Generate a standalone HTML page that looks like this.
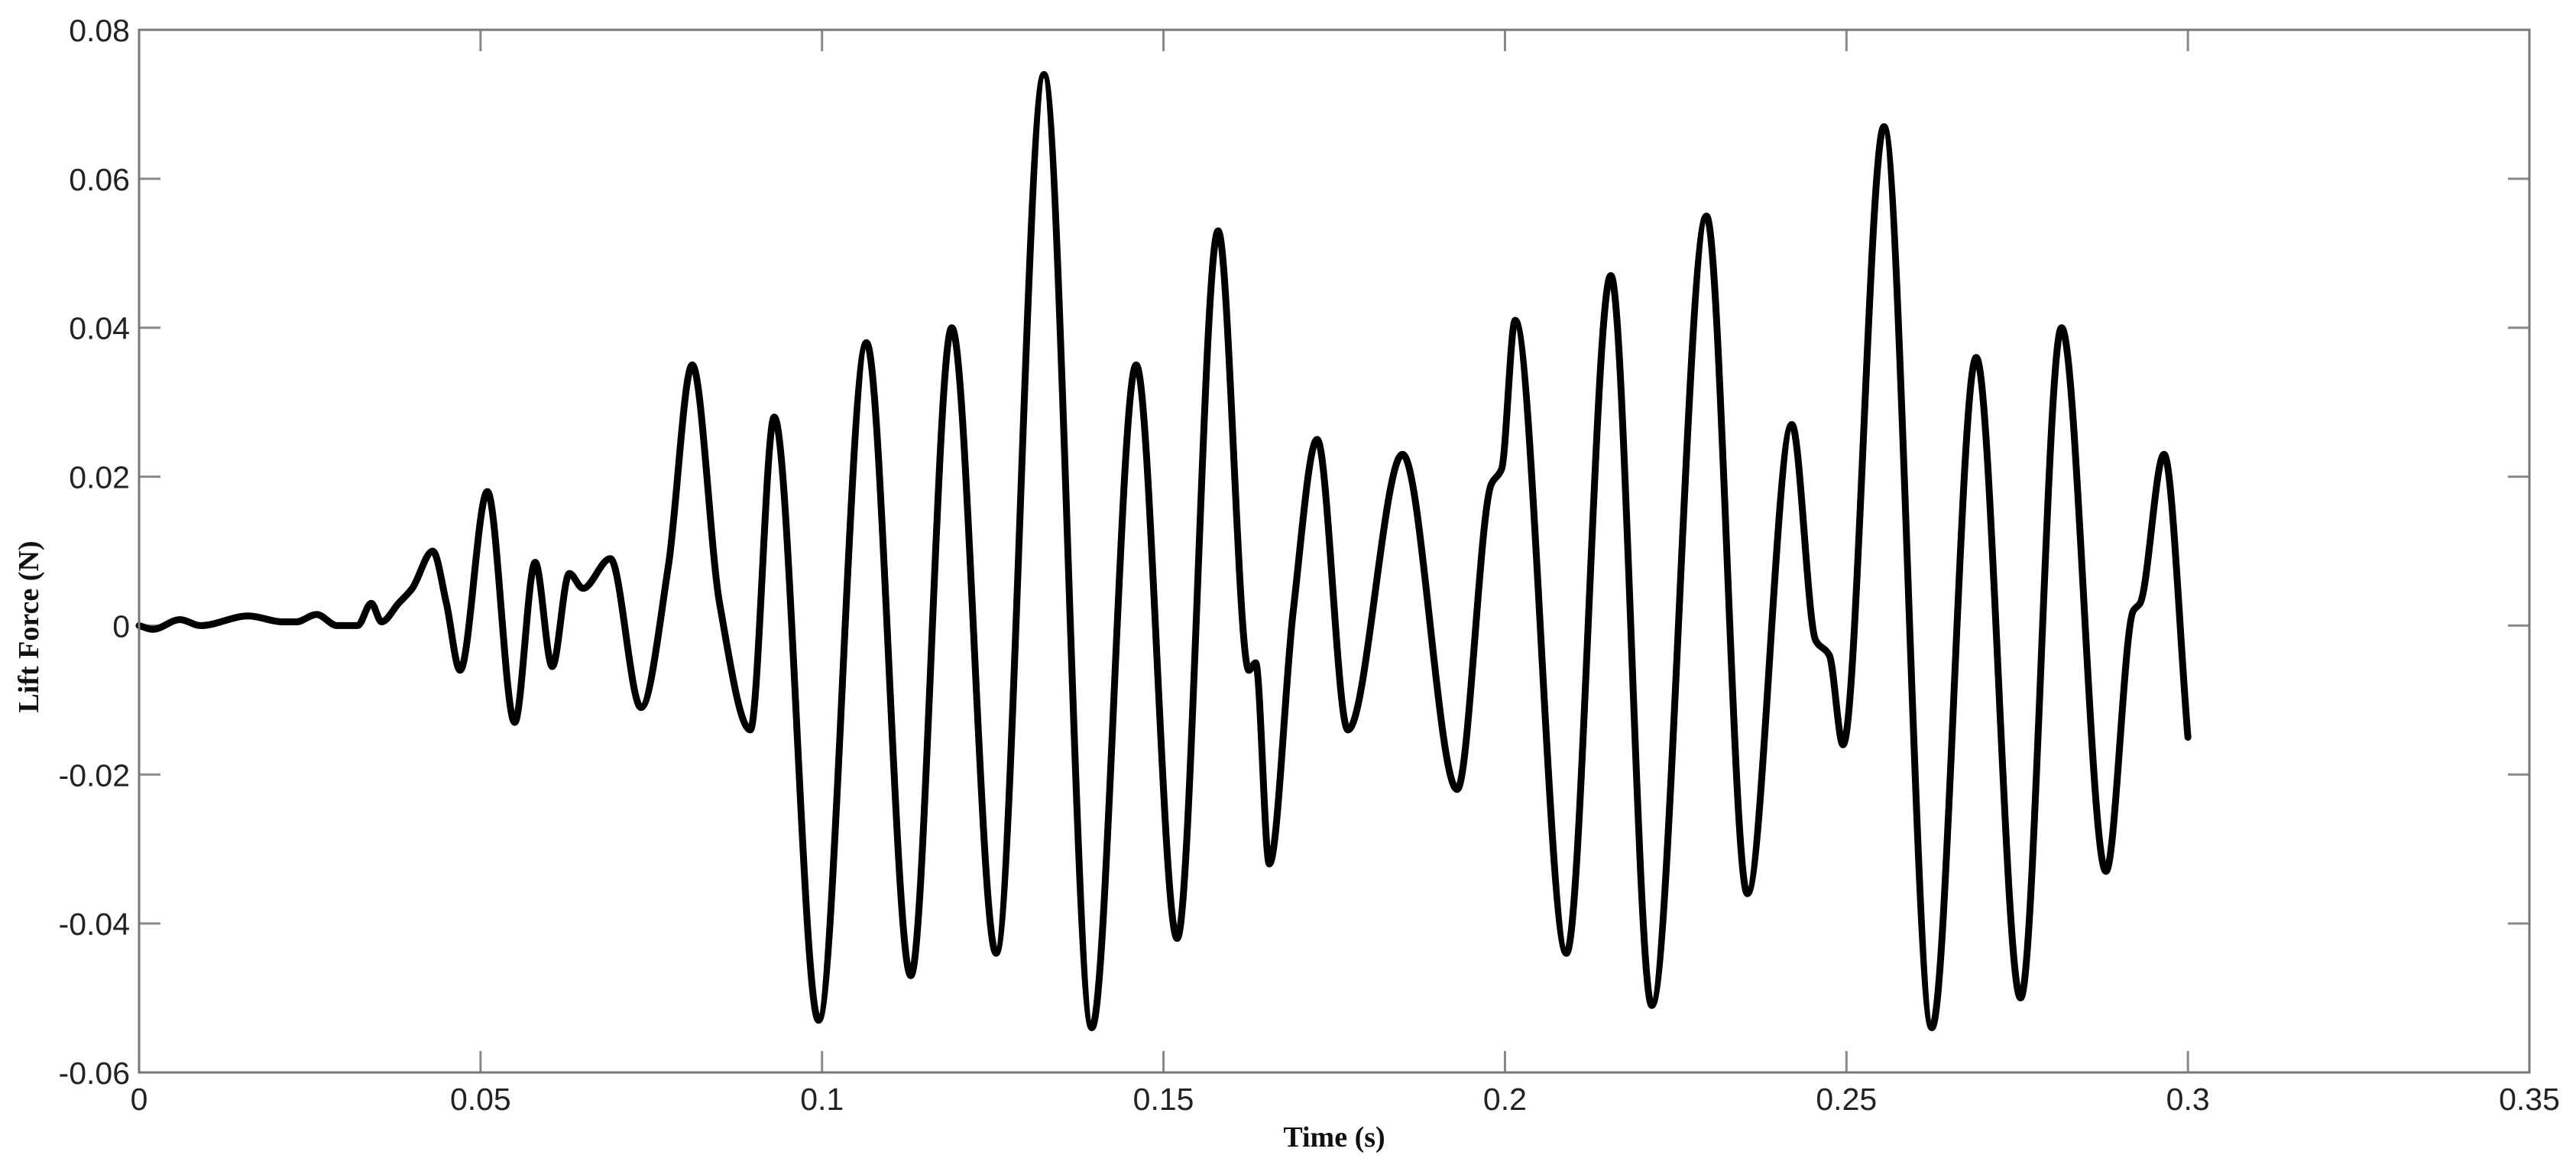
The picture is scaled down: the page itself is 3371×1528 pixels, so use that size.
<!DOCTYPE html>
<html><head><meta charset="utf-8"><style>
html,body{margin:0;padding:0;background:#fff;}
svg{display:block;}
</style></head><body>
<svg id="chart" width="3371" height="1528" viewBox="0 0 3371 1528" xmlns="http://www.w3.org/2000/svg">
<rect x="0" y="0" width="3371" height="1528" fill="#fff"/>
<g id="grid"></g>
<path id="series" fill="none" stroke="#000" stroke-width="9" stroke-linejoin="round" stroke-linecap="round"/>
<rect x="182" y="39" width="3128" height="1364" fill="none" stroke="#777" stroke-width="3"/>
<text x="1746" y="1500" font-family="'Liberation Serif',serif" font-weight="bold" font-size="38" text-anchor="middle" fill="#111">Time (s)</text>
<text transform="translate(50,820) rotate(-90)" font-family="'Liberation Serif',serif" font-weight="bold" font-size="38" text-anchor="middle" fill="#111">Lift Force (N)</text>
</svg>
<script>
const xTicks=[0,0.05,0.1,0.15,0.2,0.25,0.3,0.35];
const xTickLabels=["0","0.05","0.1","0.15","0.2","0.25","0.3","0.35"];
const yTicks=[0.08,0.06,0.04,0.02,0,-0.02,-0.04,-0.06];
const yTickLabels=["0.08","0.06","0.04","0.02","0","-0.02","-0.04","-0.06"];
const times=[0,0.002,0.006,0.009,0.016,0.021,0.023,0.026,0.029,0.032,0.034,0.0355,0.038,0.040,0.043,0.045,0.047,0.051,0.055,0.058,0.0605,0.063,0.065,0.069,0.0735,0.0775,0.081,0.085,0.0895,0.093,0.0995,0.1065,0.113,0.119,0.1255,0.1325,0.1395,0.146,0.152,0.158,0.1625,0.1635,0.1655,0.169,0.1725,0.177,0.185,0.193,0.198,0.1995,0.2015,0.209,0.2155,0.2215,0.2295,0.2355,0.242,0.2455,0.2475,0.2495,0.2555,0.2625,0.269,0.2755,0.2815,0.288,0.292,0.293,0.2965,0.300];
const forces=[0,-0.0005,0.0008,0,0.0013,0.0005,0.0005,0.0015,0,0,0.003,0.0005,0.003,0.005,0.010,0.003,-0.006,0.018,-0.013,0.0085,-0.0055,0.007,0.005,0.009,-0.011,0.008,0.035,0.003,-0.014,0.028,-0.053,0.038,-0.047,0.040,-0.044,0.074,-0.054,0.035,-0.042,0.053,-0.006,-0.005,-0.032,0.002,0.025,-0.014,0.023,-0.022,0.019,0.021,0.041,-0.044,0.047,-0.051,0.055,-0.036,0.027,-0.002,-0.004,-0.016,0.067,-0.054,0.036,-0.050,0.040,-0.033,0.002,0.003,0.023,-0.015];
const X0=182,X1=3310,Y0=1403,Y1=39;
function xs(t){return X0+(t-0)/(0.35-0)*(X1-X0);}
function ys(v){return Y0-(v-(-0.06))/(0.08-(-0.06))*(Y0-Y1);}
const NS="http://www.w3.org/2000/svg";
const g=document.getElementById('grid');
function mk(tag,attrs){const e=document.createElementNS(NS,tag);for(const k in attrs)e.setAttribute(k,attrs[k]);return e;}
xTicks.forEach((t,i)=>{
  const x=xs(t);
  const a=mk('line',{x1:x,x2:x,y1:Y0,y2:Y0-28,stroke:'#888','stroke-width':3});
  
  
  g.appendChild(a);
  const b=mk('line',{x1:x,x2:x,y1:Y1,y2:Y1+28,stroke:'#888','stroke-width':3});
  
  
  g.appendChild(b);
  const tx=mk('text',{x:x,y:1452,'font-family':"'Liberation Sans',sans-serif",'font-size':41,'text-anchor':'middle',fill:'#222'});
  tx.textContent=xTickLabels[i];
  
  
  g.appendChild(tx);
});
yTicks.forEach((v,i)=>{
  const y=ys(v);
  const a=mk('line',{x1:X0,x2:X0+28,y1:y,y2:y,stroke:'#888','stroke-width':3});
  
  
  g.appendChild(a);
  const b=mk('line',{x1:X1,x2:X1-28,y1:y,y2:y,stroke:'#888','stroke-width':3});
  
  
  g.appendChild(b);
  const tx=mk('text',{x:170,y:y+15,'font-family':"'Liberation Sans',sans-serif",'font-size':41,'text-anchor':'end',fill:'#222'});
  tx.textContent=yTickLabels[i];
  
  
  g.appendChild(tx);
});
// monotone cubic path
const px=times.map(xs),py=forces.map(ys),n=px.length;
const d=[],m=[];
for(let i=0;i<n-1;i++)d.push((py[i+1]-py[i])/(px[i+1]-px[i]));
for(let i=0;i<n;i++){
  if(i===0)m.push(d[0]);else if(i===n-1)m.push(d[n-2]);
  else if(d[i-1]*d[i]<=0)m.push(0);
  else{const w1=2*(px[i+1]-px[i])+(px[i]-px[i-1]),w2=(px[i+1]-px[i])+2*(px[i]-px[i-1]);m.push((w1+w2)/(w1/d[i-1]+w2/d[i]));}
}
let p='M'+px[0]+','+py[0];
for(let i=0;i<n-1;i++){
  const h=(px[i+1]-px[i])/3;
  p+=' C'+(px[i]+h)+','+(py[i]+m[i]*h)+' '+(px[i+1]-h)+','+(py[i+1]-m[i+1]*h)+' '+px[i+1]+','+py[i+1];
}
document.getElementById('series').setAttribute('d',p);
</script>
</body></html>
